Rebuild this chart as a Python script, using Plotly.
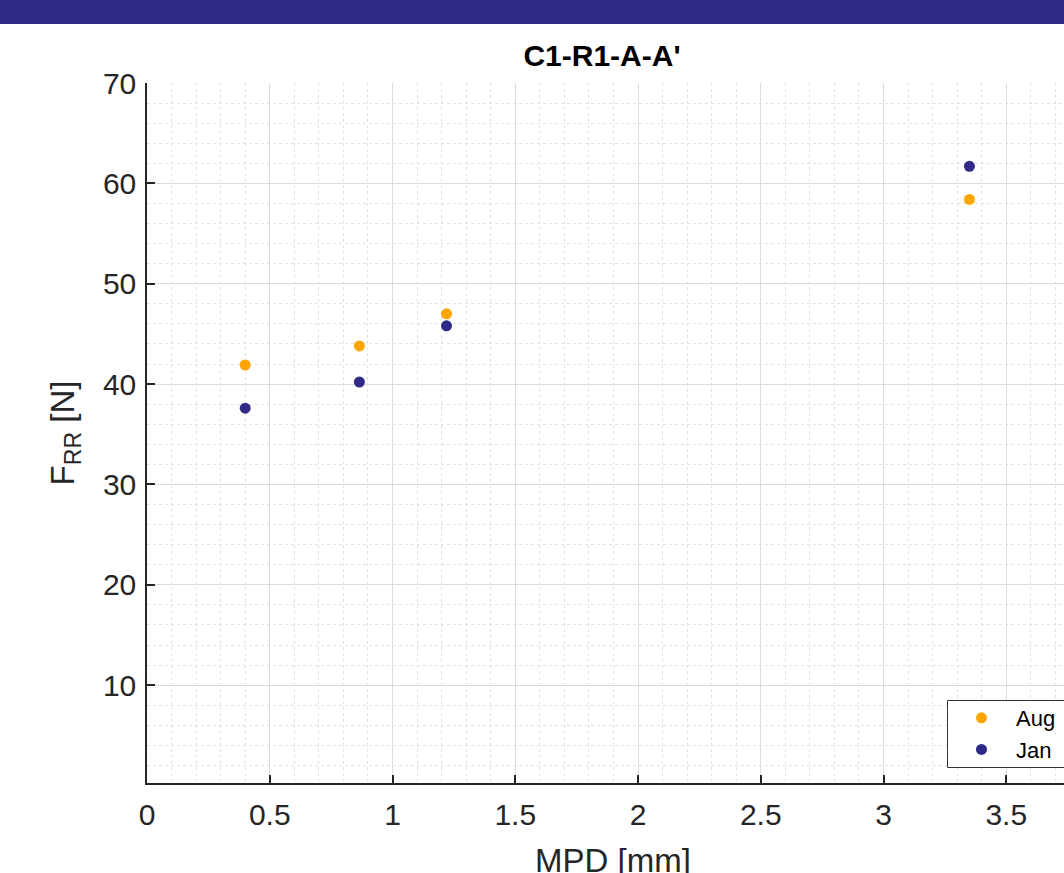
import plotly.graph_objects as go

# Data
mpd_aug = [0.40, 0.865, 1.22, 3.35]
frr_aug = [41.9, 43.8, 47.0, 58.4]
mpd_jan = [0.40, 0.865, 1.22, 3.35]
frr_jan = [37.6, 40.2, 45.8, 61.7]
series_names = ["Aug", "Jan"]
x_ticks = [0, 0.5, 1, 1.5, 2, 2.5, 3, 3.5]
x_tick_labels = ["0", "0.5", "1", "1.5", "2", "2.5", "3", "3.5"]
y_ticks = [10, 20, 30, 40, 50, 60, 70]

ORANGE = "#FFA500"
NAVY = "#2E2A85"
INK = "#262626"
FONT = "Liberation Sans, Arial, sans-serif"

W, H = 1064, 873
ML, MR, MT, MB = 147, 0, 83, 90
PW = W - ML - MR
PH = H - MT - MB


def px_x(px):
    return (px - ML) / PW


def px_y(py):
    return (MT + PH - py) / PH


fig = go.Figure()
fig.add_trace(go.Scatter(x=mpd_aug, y=frr_aug, mode="markers", name=series_names[0],
                         marker=dict(color=ORANGE, size=11, line=dict(width=0))))
fig.add_trace(go.Scatter(x=mpd_jan, y=frr_jan, mode="markers", name=series_names[1],
                         marker=dict(color=NAVY, size=11, line=dict(width=0))))

# top band
fig.add_shape(type="rect", xref="paper", yref="paper",
              x0=px_x(0), x1=1.0, y0=px_y(24), y1=px_y(0),
              fillcolor=NAVY, line=dict(width=0), layer="above")
# legend box (runs past the right edge, as in the cropped reference)
fig.add_shape(type="rect", xref="paper", yref="paper",
              x0=px_x(947.5), x1=1.05, y0=px_y(767.5), y1=px_y(700.5),
              fillcolor="white", line=dict(width=1, color="#333333"), layer="above")

fig.add_annotation(text="MPD [mm]", xref="paper", yref="paper",
                   x=px_x(613), y=px_y(860), xanchor="center", yanchor="middle",
                   showarrow=False, font=dict(size=33, color=INK, family=FONT))

fig.update_layout(
    width=W, height=H,
    margin=dict(l=ML, r=MR, t=MT, b=MB, pad=0),
    paper_bgcolor="white", plot_bgcolor="white",
    font=dict(family=FONT, color=INK),
    title=dict(text="<b>C1-R1-A-A'</b>", x=602 / W, xref="container", xanchor="center",
               y=1 - 55 / H, yref="container", yanchor="middle",
               font=dict(size=30, color="black", family=FONT)),
    showlegend=True,
    legend=dict(x=px_x(947), xanchor="left", y=px_y(697), yanchor="top",
                bgcolor="rgba(0,0,0,0)", borderwidth=0,
                font=dict(size=22, color="black", family=FONT),
                itemwidth=59, tracegroupgap=0),
    xaxis=dict(range=[0, PW / 245.5], tickvals=x_ticks, ticktext=x_tick_labels,
               showline=True, linecolor=INK, linewidth=1.5, mirror=False,
               ticks="inside", ticklen=8, tickcolor=INK, tickwidth=1.5,
               tickfont=dict(size=30, color=INK), ticklabelstandoff=4,
               showgrid=True, gridcolor="#DCDCDC", gridwidth=1,
               minor=dict(dtick=0.1, showgrid=True, gridcolor="#E2E2E2", griddash="dot", gridwidth=1),
               zeroline=False),
    yaxis=dict(range=[0.25, 70], tickvals=y_ticks,
               showline=True, linecolor=INK, linewidth=1.5, mirror=False,
               ticks="inside", ticklen=8, tickcolor=INK, tickwidth=1.5,
               tickfont=dict(size=30, color=INK), ticklabelstandoff=3,
               showgrid=True, gridcolor="#DCDCDC", gridwidth=1,
               minor=dict(dtick=2, showgrid=True, gridcolor="#E2E2E2", griddash="dot", gridwidth=1),
               zeroline=False,
               title=dict(text="F<sub>RR</sub> [N]", font=dict(size=33, color=INK), standoff=18)),
)

fig.write_html("out.html", config={"displayModeBar": False},
               post_script="document.body.style.margin='0';document.body.style.overflow='hidden';")
